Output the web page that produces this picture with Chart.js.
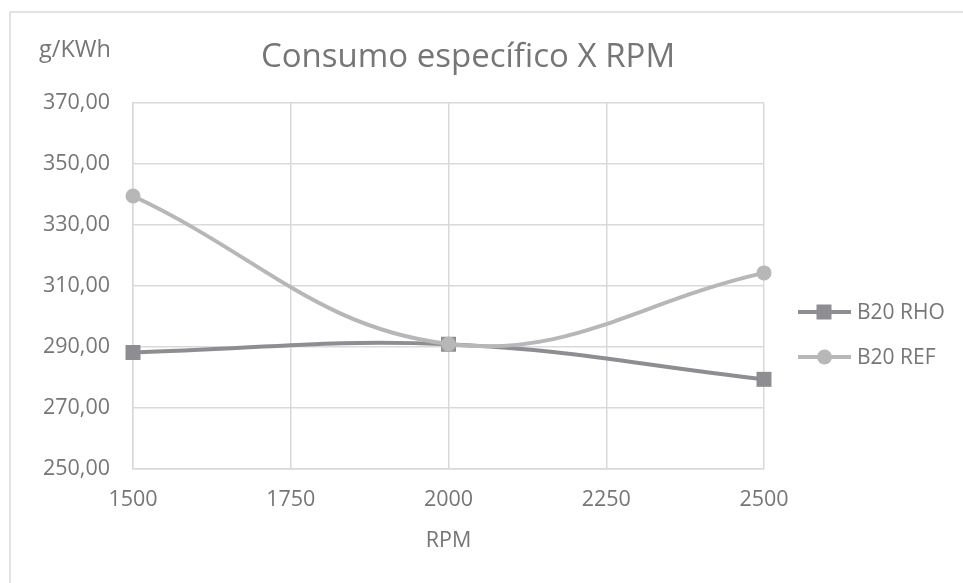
<!DOCTYPE html>
<html>
<head>
<meta charset="utf-8">
<script src="https://cdn.jsdelivr.net/npm/chart.js@4"></script>
<style>
  html, body { margin: 0; padding: 0; background: #ffffff; }
  #wrap { width: 963px; height: 583px; position: relative; }
</style>
</head>
<body>
<div id="wrap"><canvas id="chart" width="963" height="583"></canvas></div>
<script>
// RPM values on the horizontal axis
const rpm = [1500, 2000, 2500];
// Specific consumption (g/KWh) for each fuel
const b20Rho = [288.2, 290.9, 279.4];
const b20Ref = [339.5, 291.0, 314.3];
const seriesNames = ['B20 RHO', 'B20 REF'];
const xTicks = [1500, 1750, 2000, 2250, 2500];
const yTicks = [250, 270, 290, 310, 330, 350, 370];

const FONT = "'Open Sans', 'Liberation Sans', sans-serif";
const TEXT = '#767676';
const GRID = '#d9d9d9';
const COL_RHO = '#8e8e92';
const COL_REF = '#b7b7b7';

const fmt = v => v.toFixed(2).replace('.', ',');

// Frame, title, unit label and legend
const decorations = {
  id: 'decorations',
  beforeDraw(chart) {
    const ctx = chart.ctx;
    ctx.save();
    ctx.strokeStyle = GRID;
    ctx.lineWidth = 1.5;
    ctx.beginPath();
    ctx.moveTo(10, 583);
    ctx.lineTo(10, 12);
    ctx.lineTo(963, 12);
    ctx.stroke();
    ctx.restore();
  },
  afterDraw(chart) {
    const ctx = chart.ctx;
    ctx.save();
    ctx.fillStyle = TEXT;
    ctx.textBaseline = 'alphabetic';
    ctx.textAlign = 'center';
    ctx.font = `33px ${FONT}`;
    ctx.fillText('Consumo específico X RPM', 468, 67);
    ctx.textAlign = 'left';
    ctx.font = `23.5px ${FONT}`;
    ctx.fillText('g/KWh', 39, 57);

    // legend
    const items = [
      { name: seriesNames[0], color: COL_RHO, style: 'rect', y: 312 },
      { name: seriesNames[1], color: COL_REF, style: 'circle', y: 357 }
    ];
    items.forEach(it => {
      ctx.strokeStyle = it.color;
      ctx.lineWidth = 4;
      ctx.beginPath();
      ctx.moveTo(798, it.y);
      ctx.lineTo(851, it.y);
      ctx.stroke();
      ctx.fillStyle = it.color;
      if (it.style === 'rect') {
        ctx.fillRect(824 - 7.5, it.y - 7.5, 15, 15);
      } else {
        ctx.beginPath();
        ctx.arc(824.5, it.y, 7.5, 0, Math.PI * 2);
        ctx.fill();
      }
      ctx.fillStyle = TEXT;
      ctx.textBaseline = 'middle';
      ctx.textAlign = 'left';
      ctx.font = `21px ${FONT}`;
      ctx.fillText(it.name, 857, it.y + 1);
    });
    ctx.restore();
  }
};

const toPoints = vals => rpm.map((x, i) => ({ x, y: vals[i] }));

new Chart(document.getElementById('chart'), {
  type: 'line',
  data: {
    datasets: [
      {
        label: seriesNames[1],
        data: toPoints(b20Ref),
        borderColor: COL_REF,
        backgroundColor: COL_REF,
        borderWidth: 4,
        pointStyle: 'circle',
        pointRadius: 7.5,
        pointBorderWidth: 0,
        tension: 0.4,
        clip: false,
        fill: false
      },
      {
        label: seriesNames[0],
        data: toPoints(b20Rho),
        borderColor: COL_RHO,
        backgroundColor: COL_RHO,
        borderWidth: 4,
        pointStyle: 'rect',
        pointRadius: 10.6,
        pointBorderWidth: 0,
        tension: 0.4,
        clip: false,
        fill: false
      }
    ]
  },
  options: {
    responsive: false,
    animation: false,
    events: [],
    layout: { padding: { top: 103, right: 199, bottom: 29, left: 0 } },
    plugins: {
      legend: { display: false },
      title: { display: false },
      tooltip: { enabled: false }
    },
    scales: {
      x: {
        type: 'linear',
        min: xTicks[0],
        max: xTicks[xTicks.length - 1],
        afterBuildTicks: s => { s.ticks = xTicks.map(v => ({ value: v })); },
        afterFit: s => { s.height = 554 - 469; },
        grid: { color: GRID, lineWidth: 1.5, drawTicks: false },
        border: { color: GRID, width: 1.5 },
        ticks: {
          color: TEXT,
          font: { family: FONT, size: 21.5 },
          padding: 18,
          maxRotation: 0,
          callback: v => String(v)
        },
        title: {
          display: true,
          text: 'RPM',
          color: TEXT,
          font: { family: FONT, size: 21.5 },
          padding: { top: 0, bottom: 0 }
        }
      },
      y: {
        min: yTicks[0],
        max: yTicks[yTicks.length - 1],
        afterBuildTicks: s => { s.ticks = yTicks.map(v => ({ value: v })); },
        afterFit: s => { s.width = 133; },
        grid: { color: GRID, lineWidth: 1.5, drawTicks: false },
        border: { color: GRID, width: 1.5 },
        ticks: {
          color: TEXT,
          font: { family: FONT, size: 21.5 },
          padding: 23,
          callback: v => fmt(v)
        }
      }
    }
  },
  plugins: [decorations]
});
</script>
</body>
</html>
